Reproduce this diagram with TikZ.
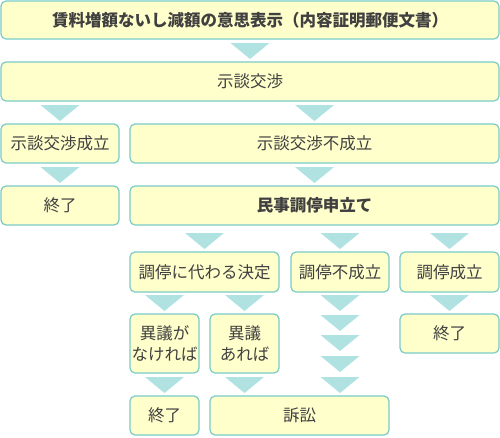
\documentclass[tikz,border=0pt]{standalone}
\usepackage{fontspec}
\setmainfont{Noto Sans CJK JP}
\usepackage{tikz}

\definecolor{boxfill}{HTML}{FFFFCC}
\definecolor{boxline}{HTML}{78CCC8}
\definecolor{trifill}{HTML}{B0E2E2}
\definecolor{textgray}{HTML}{404040}

\tikzset{
    box/.style = {draw=boxline, fill=boxfill, line width=1.2pt, rounded corners=5pt,
        inner sep=0pt, align=center, text=textgray, font={\fontsize{16.5}{21}\selectfont}},
    boldbox/.style = {box, font={\fontsize{16.5}{21}\selectfont\bfseries}}
}
% down triangle, top centre at (#1,#2)
\newcommand{\downtri}[2]{\fill[trifill] (#1-19.5,#2) -- (#1+19.5,#2) -- (#1,#2+16) -- cycle;}

\begin{document}
\begin{tikzpicture}[x=1pt, y=-1pt]
    \useasboundingbox (0,0) rectangle (500,437);

    \node[boldbox, minimum width=498pt, minimum height=38pt] (offer) at (250,20) {賃料増額ないし減額の意思表示（内容証明郵便文書）};
    \node[box, minimum width=498pt, minimum height=39pt] (talks) at (250,81.5) {示談交渉};
    \node[box, minimum width=118pt, minimum height=39pt] (talksok) at (60,143.5) {示談交渉成立};
    \node[box, minimum width=369pt, minimum height=39pt] (talksng) at (314.5,143.5) {示談交渉不成立};
    \node[box, minimum width=118pt, minimum height=39pt] (end1) at (60,205.5) {終了};
    \node[boldbox, minimum width=369pt, minimum height=39pt] (mediation) at (314.5,205.5) {民事調停申立て};
    \node[box, minimum width=149pt, minimum height=40pt] (decision) at (204.5,272) {調停に代わる決定};
    \node[box, minimum width=98pt, minimum height=40pt] (medng) at (340,272) {調停不成立};
    \node[box, minimum width=99pt, minimum height=40pt] (medok) at (449.5,272) {調停成立};
    \node[box, minimum width=69pt, minimum height=59pt] (noobj) at (164.5,343.5) {異議が\\なければ};
    \node[box, minimum width=69pt, minimum height=59pt] (obj) at (244.5,343.5) {異議\\あれば};
    \node[box, minimum width=99pt, minimum height=39pt] (end2) at (449.5,333.5) {終了};
    \node[box, minimum width=69pt, minimum height=39pt] (end3) at (164.5,415.5) {終了};
    \node[box, minimum width=179pt, minimum height=39pt] (suit) at (299.5,415.5) {訴訟};

    % arrows
    \downtri{250}{43}
    \downtri{60}{105}
    \downtri{314.5}{105}
    \downtri{60}{167}
    \downtri{314.5}{167}
    \downtri{204.5}{233}
    \downtri{340}{233}
    \downtri{449.5}{233}
    \downtri{164.5}{295}
    \downtri{244.5}{295}
    \downtri{449.5}{295}
    \foreach \y in {295,315,335,356,377} {
        \downtri{340}{\y}
    }
    \downtri{164.5}{377}
    \downtri{244.5}{377}
\end{tikzpicture}
\end{document}
